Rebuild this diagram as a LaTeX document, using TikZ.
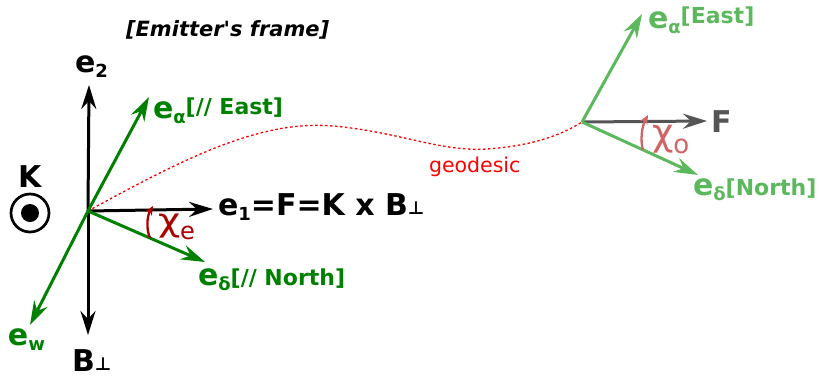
\documentclass[tikz,border=0pt]{standalone}
\usepackage{fontspec}
\setmainfont{DejaVu Sans}
\usetikzlibrary{arrows.meta}
\definecolor{dgreen}{HTML}{008000}
\definecolor{lgreen}{HTML}{5CB85C}
\definecolor{fgrey}{HTML}{555555}
\definecolor{chie}{HTML}{AA0000}
\definecolor{chio}{HTML}{D06464}
\newcommand{\lsub}[2][5]{\raisebox{-#1pt}{\fontsize{18}{18}\selectfont #2}}
\newcommand{\bigf}{\fontsize{30}{32}\selectfont\bfseries}
\newcommand{\smallf}{\fontsize{22}{24}\selectfont\bfseries}
\newcommand{\straightq}{\XeTeXglyph\XeTeXcharglyph"0027\relax}
\begin{document}
\begin{tikzpicture}[x=1pt,y=-1pt,
  vec/.style={line width=3pt,-{Stealth[length=24pt,width=15pt,inset=8pt]}},
  ang/.style={line width=2.3pt,-{Stealth[length=9pt,width=8pt,inset=3pt]}},
  lbl/.style={anchor=base west,inner sep=0pt,outer sep=0pt}]
\useasboundingbox (0,0) rectangle (819,378);
% emitter frame
\coordinate (O) at (88,211);
\coordinate (e2t) at (89,85);
\coordinate (bpt) at (88,335);
\coordinate (e1t) at (213,209);
\coordinate (eat) at (149,97);
\coordinate (edt) at (205,262);
\coordinate (ewt) at (30,325);
% observer frame
\coordinate (P) at (582,122);
\coordinate (Ft) at (707,121);
\coordinate (oat) at (642,14);
\coordinate (odt) at (698,175);
% geodesic
\draw[red,line width=1.3pt,dash pattern=on 2.5pt off 2.5pt]
  (O) .. controls (190,155) and (262,120) .. (333,126)
      .. controls (400,132) and (440,152) .. (487,149)
      .. controls (530,146) and (560,136) .. (P);
% emitter vectors
\draw[vec,black] (O) -- (e2t);
\draw[vec,black] (O) -- (bpt);
\draw[vec,black] (O) -- (e1t);
\draw[vec,dgreen] (O) -- (eat);
\draw[vec,dgreen] (O) -- (edt);
\draw[vec,dgreen] (O) -- (ewt);
\coordinate (cea) at (150,238);
\coordinate (ceb) at (153,206);
\draw[ang,chie] (cea) .. controls (146,229) and (147,216) .. (ceb);
% observer vectors
\draw[vec,fgrey] (P) -- (Ft);
\draw[vec,lgreen] (P) -- (oat);
\draw[vec,lgreen] (P) -- (odt);
\coordinate (coa) at (643,150);
\coordinate (cob) at (648,115);
\draw[ang,chio] (coa) .. controls (640,140) and (642,126) .. (cob);
% K symbol
\node[draw,circle,line width=2.7pt,minimum size=38pt,inner sep=0pt] (Kc) at (30,213) {};
\node[fill,circle,minimum size=18pt,inner sep=0pt] (Kd) at (Kc.center) {};
% labels
\node[lbl] (title) at (126,36) {\fontsize{21}{22}\selectfont\bfseries\itshape [Emitter\straightq s frame]};
\node[lbl] (Kl) at (18,187) {\bigf K};
\node[lbl] (e2l) at (75,72) {\bigf e\lsub{2}};
\node[lbl] (bpl) at (72,371) {\bigf B\lsub[-1]{⊥}};
\node[lbl] (e1l) at (218,215) {\bigf e\lsub{1}=F=K x B\lsub[-1]{⊥}};
\node[lbl,text=dgreen] (eal) at (153,118) {\bigf e\lsub{α}\raisebox{4pt}{\smallf[// East]}};
\node[lbl,text=dgreen] (edl) at (198,285) {\bigf e\lsub{δ}{\smallf[// North]}};
\node[lbl,text=dgreen] (ewl) at (8,345) {\bigf e\lsub{w}};
\node[lbl,text=chie] (chel) at (158,231) {\fontsize{32}{32}\selectfont\scalebox{1.2}[1]{χ}\lsub[8]{\fontsize{24}{24}\selectfont e}};
\node[lbl,text=red] (geol) at (429,172) {\fontsize{20.5}{22}\selectfont geodesic};
\node[lbl,text=lgreen] (oal) at (648,28) {\bigf e\lsub{α}\raisebox{5pt}{\smallf[East]}};
\node[lbl,text=fgrey] (Fl) at (711,132) {\bigf F};
\node[lbl,text=chio] (chol) at (652,145) {\fontsize{37}{37}\selectfont χ\lsub[8]{\fontsize{26}{26}\selectfont o}};
\node[lbl,text=lgreen] (odl) at (693,195) {\bigf e\lsub{δ}{\smallf[North]}};
\end{tikzpicture}
\end{document}
